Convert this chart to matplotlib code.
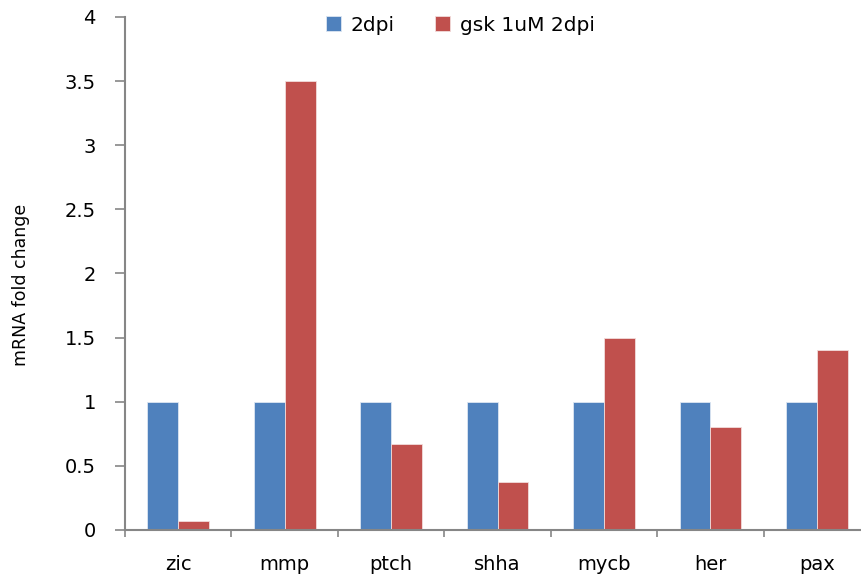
import numpy as np
import matplotlib.pyplot as plt

genes = ["zic", "mmp", "ptch", "shha", "mycb", "her", "pax"]
dpi2 = [1, 1, 1, 1, 1, 1, 1]
gsk_dpi2 = [0.07, 3.5, 0.67, 0.375, 1.5, 0.8, 1.4]
series_names = ["2dpi", "gsk 1uM 2dpi"]
yticks = [0, 0.5, 1, 1.5, 2, 2.5, 3, 3.5, 4]
ytick_labels = ["0", "0.5", "1", "1.5", "2", "2.5", "3", "3.5", "4"]

plt.rcParams['font.family'] = ['DejaVu Sans']
axis_grey = "#868686"

fig = plt.figure(figsize=(8.62, 5.83), dpi=100)
# axis runs past the right edge of the figure, as in the original
ax = fig.add_axes([0.145, 0.091, 0.8643, 0.88])

x = np.arange(len(genes))
w = 0.29
ax.bar(x - w / 2, dpi2, w, color="#4F81BD", edgecolor="#DCE6F2", linewidth=0.6, label=series_names[0])
ax.bar(x + w / 2, gsk_dpi2, w, color="#C0504D", edgecolor="#F2DCDB", linewidth=0.6, label=series_names[1])

ax.set_xlim(-0.5, len(genes) - 0.5)
ax.set_ylim(0, 4)
ax.set_yticks(yticks)
ax.set_yticklabels(ytick_labels, fontsize=14)
ax.set_xticks(x)
ax.set_xticklabels(genes, fontsize=14)
ax.set_xticks(np.arange(len(genes)) - 0.5, minor=True)

ax.tick_params(axis="y", length=7, width=1.2, color=axis_grey, pad=14)
ax.tick_params(axis="x", which="major", length=0, pad=18)
ax.tick_params(axis="x", which="minor", length=5, width=1.2, color=axis_grey)

for s in ["top", "right"]:
    ax.spines[s].set_visible(False)
for s in ["left", "bottom"]:
    ax.spines[s].set_color(axis_grey)
    ax.spines[s].set_linewidth(1.5)

fig.text(0.024, 0.511, "mRNA fold change", rotation=90, fontsize=12.5,
         ha="center", va="center", family=["Liberation Sans Narrow", "DejaVu Sans"])

fig.legend(loc="center", bbox_to_anchor=(0.534, 0.957), ncol=2, frameon=False,
           fontsize=14.5, handlelength=0.75, handleheight=0.75, columnspacing=2.0,
           handletextpad=0.5)

fig.savefig("out.png", dpi=100)
